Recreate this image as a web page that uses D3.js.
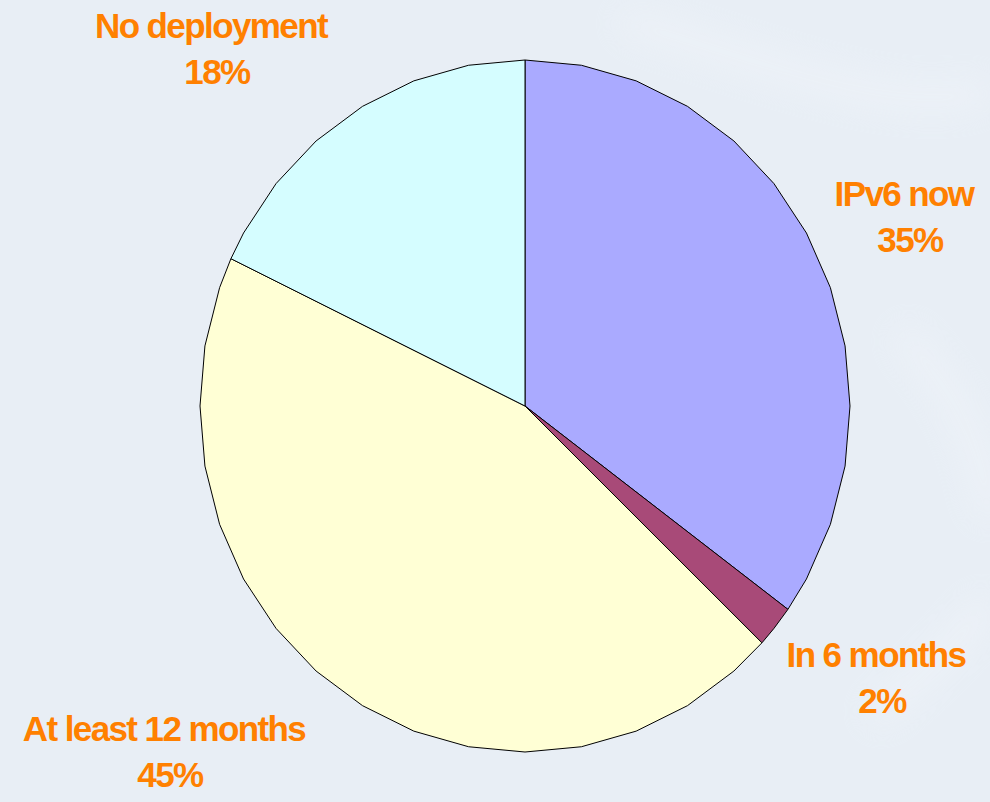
<!DOCTYPE html>
<meta charset="utf-8">
<head>
    <title>IPv6 deployment</title>
    <script src="https://d3js.org/d3.v7.min.js"></script>
    <style>
        body { margin: 0; background: #e9eff6; }
        .label { font-family: "Liberation Sans", Arial, sans-serif; font-weight: bold; fill: #ff8000; letter-spacing: -1.6px; }
    </style>
</head>
<body>
<script>
    // slice data, clockwise from 12 o'clock
    var categories = ["IPv6 now", "In 6 months", "At least 12 months", "No deployment"];
    var shares = [35, 2, 45, 18];
    var colors = ["#aaaaff", "#a84a78", "#ffffd5", "#d5fdff"];

    // label anchors (layout only)
    var labelPos = [[904, 206], [876, 667], [164, 741], [211, 38]];

    var width = 990, height = 802;
    var cx = 525, cy = 406, rx = 325, ry = 346;

    var svg = d3.select("body").append("svg")
        .attr("width", width)
        .attr("height", height);

    // faint background swirls
    var defs = svg.append("defs");
    var blur = defs.append("filter").attr("id", "soft").attr("x", "-50%").attr("y", "-50%").attr("width", "200%").attr("height", "200%");
    blur.append("feGaussianBlur").attr("stdDeviation", 18);
    svg.append("rect").attr("width", width).attr("height", height).attr("fill", "#e8eef5");
    var swirl = svg.append("g").attr("filter", "url(#soft)").attr("fill", "none").attr("stroke", "#f4f8fc").attr("stroke-width", 26).attr("opacity", 0.45);
    swirl.append("path").attr("d", "M620,20 C760,60 900,120 990,90");
    swirl.append("path").attr("d", "M900,330 C940,380 980,420 990,520");
    swirl.append("path").attr("d", "M870,720 C920,680 960,640 990,600");

    var pie = d3.pie().sort(null).value(function (d) { return d; });
    var arcs = pie(shares);

    // polygonal outline like the original (about 10 degree steps)
    var step = Math.PI / 18;
    var line = d3.lineRadial()
        .angle(function (d) { return d[0]; })
        .radius(function (d) { return d[1]; })
        .curve(d3.curveLinearClosed);

    function slicePoints(a) {
        var pts = [[0, 0], [a.startAngle, rx]];
        var t = Math.ceil(a.startAngle / step + 1e-6) * step;
        while (t < a.endAngle - 1e-6) { pts.push([t, rx]); t += step; }
        pts.push([a.endAngle, rx]);
        return pts;
    }

    var g = svg.append("g")
        .attr("transform", "translate(" + cx + "," + cy + ") scale(1," + (ry / rx) + ")");

    g.selectAll("path")
        .data(arcs)
        .enter().append("path")
        .attr("d", function (d) { return line(slicePoints(d)); })
        .attr("fill", function (d, i) { return colors[i]; })
        .attr("stroke", "#000")
        .attr("stroke-width", 1)
        .attr("stroke-linejoin", "round")
        .attr("vector-effect", "non-scaling-stroke");

    var labels = svg.selectAll(".label")
        .data(arcs)
        .enter().append("text")
        .attr("class", "label")
        .attr("text-anchor", "middle")
        .attr("font-size", 35);

    labels.append("tspan")
        .attr("x", function (d, i) { return labelPos[i][0]; })
        .attr("y", function (d, i) { return labelPos[i][1]; })
        .text(function (d, i) { return categories[i]; });

    labels.append("tspan")
        .attr("x", function (d, i) { return labelPos[i][0] + 6; })
        .attr("dy", 46)
        .text(function (d) { return d.data + "%"; });
</script>
</body>
</html>
